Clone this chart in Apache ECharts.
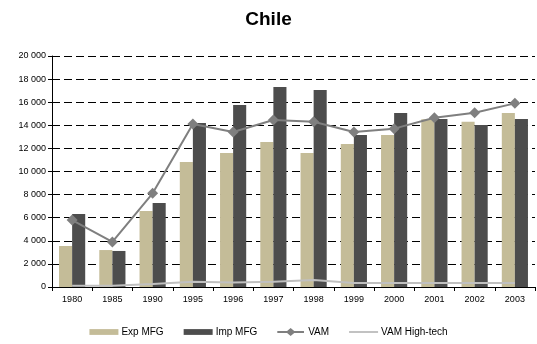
<!DOCTYPE html>
<html>
<head>
<meta charset="utf-8">
<script src="https://cdn.jsdelivr.net/npm/echarts@6/dist/echarts.min.js"></script>
<style>
  html, body { margin: 0; padding: 0; background: #fff; }
  #chart { width: 537px; height: 344px; }
</style>
</head>
<body>
<div id="chart"></div>
<script>
const years = ['1980','1985','1990','1995','1996','1997','1998','1999','2000','2001','2002','2003'];
const expMfg = [3550, 3200, 6580, 10820, 11600, 12550, 11600, 12380, 13160, 14520, 14310, 15060];
const impMfg = [6320, 3120, 7270, 14200, 15760, 17320, 17060, 13160, 15060, 14550, 14030, 14550];
const vam = [5800, 3900, 8110, 14110, 13420, 14460, 14310, 13420, 13710, 14660, 15090, 15900];
const vamHighTech = [100, 100, 250, 450, 400, 450, 600, 350, 350, 350, 350, 350];

const font = 'Liberation Sans, Arial, sans-serif';
const chart = echarts.init(document.getElementById('chart'), null, { renderer: 'canvas' });

chart.setOption({
  animation: false,
  backgroundColor: '#fff',
  title: {
    text: 'Chile',
    left: 'center',
    top: 5,
    textStyle: { fontFamily: font, fontSize: 19, fontWeight: 'bold', color: '#000' }
  },
  legend: {
    bottom: 2,
    left: 'center',
    itemGap: 20,
    itemWidth: 29,
    itemHeight: 8,
    textStyle: { fontFamily: font, fontSize: 10, color: '#000', padding: [0, 0, 0, -2] },
    data: [
      { name: 'Exp MFG', icon: 'path://M0,1 L30,1 L30,7 L0,7 Z' },
      { name: 'Imp MFG', icon: 'path://M0,1 L30,1 L30,7 L0,7 Z' },
      { name: 'VAM', icon: 'path://M0,3 L11,3 L15,-0.5 L19,3 L30,3 L30,5 L19,5 L15,8.5 L11,5 L0,5 Z' },
      { name: 'VAM High-tech', icon: 'path://M0,3 L30,3 L30,5 L0,5 Z' }
    ]
  },
  grid: { left: 52, right: 2, top: 56, bottom: 57 },
  xAxis: {
    type: 'category',
    data: years,
    axisLine: { lineStyle: { color: '#000', width: 1 } },
    axisTick: { show: true, alignWithLabel: false, length: 4, lineStyle: { color: '#000' } },
    axisLabel: { fontFamily: font, fontSize: 9, color: '#000', margin: 8 }
  },
  yAxis: {
    type: 'value',
    min: 0,
    max: 20000,
    interval: 2000,
    axisLine: { show: true, lineStyle: { color: '#000', width: 1 } },
    axisTick: { show: true, length: 4, lineStyle: { color: '#000' } },
    axisLabel: {
      fontFamily: font, fontSize: 9, color: '#000', margin: 6,
      formatter: v => v >= 1000 ? Math.floor(v / 1000) + ' ' + String(v % 1000).padStart(3, '0') : String(v)
    },
    splitLine: { show: true, lineStyle: { color: '#000', width: 1, type: [8, 4] } }
  },
  series: [
    {
      name: 'Exp MFG', type: 'bar', data: expMfg,
      barGap: '0%', barCategoryGap: '35%',
      itemStyle: { color: '#c4bc98' }
    },
    {
      name: 'Imp MFG', type: 'bar', data: impMfg,
      barGap: '0%', barCategoryGap: '35%',
      itemStyle: { color: '#4d4d4d' }
    },
    {
      name: 'VAM', type: 'line', data: vam,
      symbol: 'diamond', symbolSize: 11,
      lineStyle: { color: '#7f7f7f', width: 2 },
      itemStyle: { color: '#7f7f7f' }
    },
    {
      name: 'VAM High-tech', type: 'line', data: vamHighTech,
      symbol: 'none',
      lineStyle: { color: '#c0c0c0', width: 2 },
      itemStyle: { color: '#c0c0c0' }
    }
  ]
});
</script>
</body>
</html>
